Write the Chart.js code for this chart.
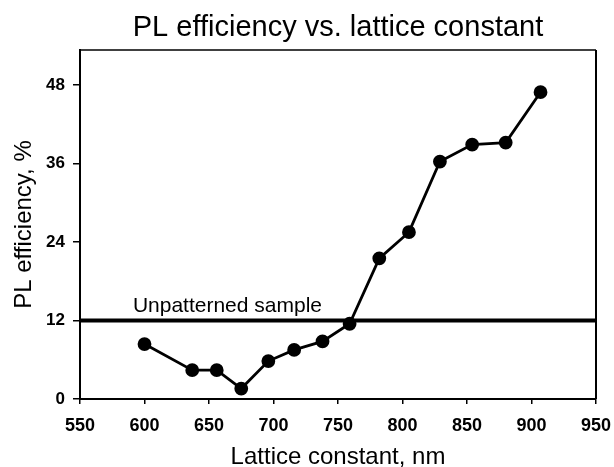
<!DOCTYPE html>
<html>
<head>
<meta charset="utf-8">
<script src="https://cdn.jsdelivr.net/npm/chart.js@4"></script>
<style>
  html, body { margin: 0; padding: 0; background: #fff; }
  #wrap { width: 614px; height: 467px; position: relative; }
</style>
</head>
<body>
<div id="wrap"><canvas id="chart"></canvas></div>
<script>
// data
var latticeNm = [600, 637, 656, 675, 696, 716, 738, 759, 782, 805, 829, 854, 880, 907];
var plEfficiency = [8.4, 4.4, 4.4, 1.6, 5.8, 7.5, 8.8, 11.5, 21.5, 25.5, 36.3, 38.9, 39.2, 46.9];
var referenceX = [550, 950];
var referenceY = [12, 12];
var referenceLabel = 'Unpatterned sample';
var xTicks = [550, 600, 650, 700, 750, 800, 850, 900, 950];
var yTicks = [0, 12, 24, 36, 48];

var FONT = '"Liberation Sans", Arial, Helvetica, sans-serif';

function toPoints(xs, ys) {
    var pts = [];
    for (var i = 0; i < xs.length; i++) pts.push({ x: xs[i], y: ys[i] });
    return pts;
}

// title, axis titles, frame and the reference label
var extras = {
    id: 'extras',
    afterDraw: function (chart) {
        var ctx = chart.ctx;
        var a = chart.chartArea;
        var xs = chart.scales.x, ys = chart.scales.y;
        var cx = (a.left + a.right) / 2;
        ctx.save();
        ctx.strokeStyle = '#000';
        ctx.lineWidth = 1.5;
        ctx.beginPath();
        ctx.moveTo(a.left, a.top);
        ctx.lineTo(a.right, a.top);
        ctx.stroke();
        ctx.lineWidth = 2;
        ctx.beginPath();
        ctx.moveTo(a.right, a.top);
        ctx.lineTo(a.right, a.bottom);
        ctx.stroke();

        ctx.fillStyle = '#000';
        ctx.textAlign = 'center';
        ctx.textBaseline = 'alphabetic';
        ctx.font = '29px ' + FONT;
        ctx.fillText('PL efficiency vs. lattice constant', cx, 36);

        ctx.font = '24px ' + FONT;
        ctx.fillText('Lattice constant, nm', cx, 464);

        ctx.save();
        ctx.translate(24, (a.top + a.bottom) / 2);
        ctx.rotate(-Math.PI / 2);
        ctx.textBaseline = 'middle';
        ctx.fillText('PL efficiency, %', 0, 0);
        ctx.restore();

        ctx.font = '21px ' + FONT;
        ctx.textAlign = 'left';
        ctx.fillText(referenceLabel, xs.getPixelForValue(591), ys.getPixelForValue(12) - 8);
        ctx.restore();
    }
};

new Chart(document.getElementById('chart'), {
    type: 'scatter',
    data: {
        datasets: [{
            data: toPoints(referenceX, referenceY),
            showLine: true,
            borderColor: '#000',
            borderWidth: 4,
            pointRadius: 0
        }, {
            data: toPoints(latticeNm, plEfficiency),
            showLine: true,
            borderColor: '#000',
            borderWidth: 2.8,
            backgroundColor: '#000',
            pointRadius: 5.5,
            pointBackgroundColor: '#000',
            pointBorderColor: '#000'
        }]
    },
    options: {
        responsive: true,
        maintainAspectRatio: false,
        animation: false,
        layout: { padding: { left: 0, right: 18, top: 50, bottom: 0 } },
        plugins: { legend: { display: false }, tooltip: { enabled: false }, title: { display: false } },
        scales: {
            x: {
                type: 'linear',
                min: 550, max: 950,
                afterBuildTicks: function (s) { s.ticks = xTicks.map(function (v) { return { value: v }; }); },
                afterFit: function (s) { s.height = 68; s.paddingLeft = 0; s.paddingRight = 0; },
                border: { color: '#000', width: 2 },
                grid: { drawOnChartArea: false, color: '#000', tickLength: 5, lineWidth: 1.5 },
                ticks: { color: '#000', font: { family: FONT, size: 18, weight: 'bold' }, padding: 11, maxRotation: 0 }
            },
            y: {
                type: 'linear',
                min: 0, max: 53.35,
                afterBuildTicks: function (s) { s.ticks = yTicks.map(function (v) { return { value: v }; }); },
                afterFit: function (s) { s.width = 80; s.paddingTop = 0; s.paddingBottom = 0; },
                border: { color: '#000', width: 2 },
                grid: { drawOnChartArea: false, color: '#000', tickLength: 7, lineWidth: 1.5 },
                ticks: { color: '#000', font: { family: FONT, size: 17, weight: 'bold' }, padding: 8 }
            }
        }
    },
    plugins: [extras]
});
</script>
</body>
</html>
